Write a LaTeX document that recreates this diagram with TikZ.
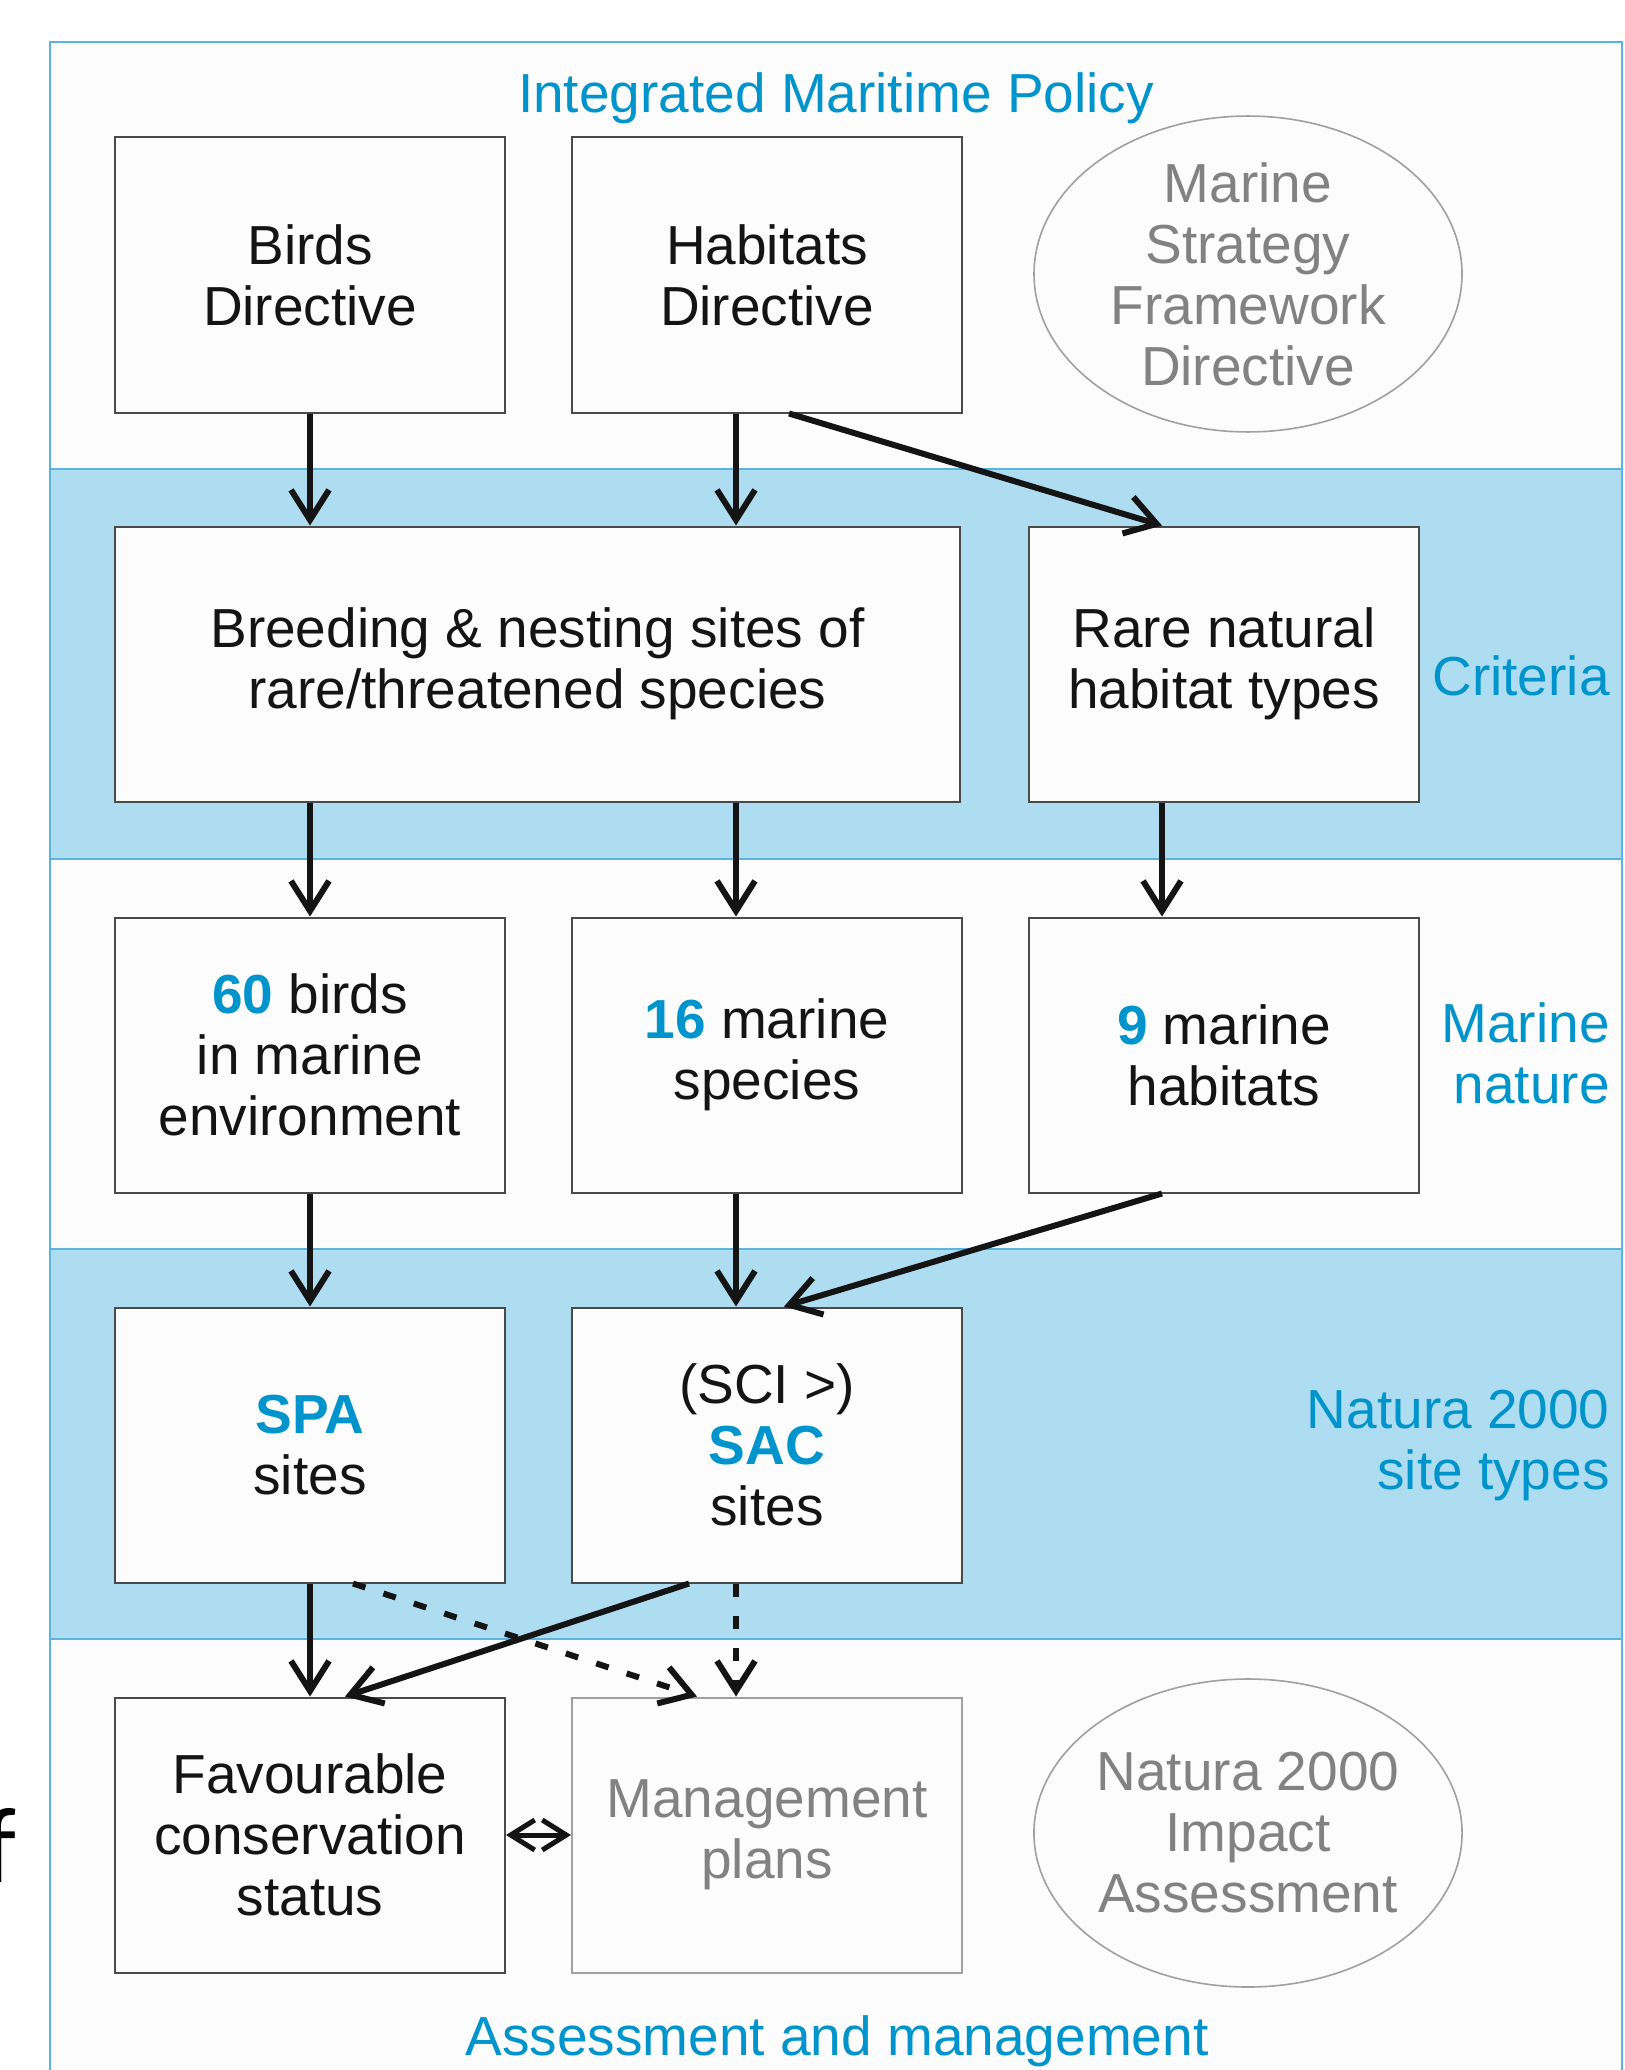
\documentclass[tikz,border=0pt]{standalone}
\usepackage{fontspec}
\setmainfont{Liberation Sans}
\newfontfamily\calfont{Carlito}
\usetikzlibrary{arrows.meta,shapes.geometric}
\definecolor{bandblue}{HTML}{AEDCF0}
\definecolor{lineblue}{HTML}{5AB4E0}
\definecolor{tblue}{HTML}{0094CC}
\definecolor{bgw}{HTML}{FCFCFC}
\definecolor{boxline}{HTML}{4A4A4A}
\definecolor{txt}{HTML}{141414}
\definecolor{gtxt}{HTML}{828282}
\definecolor{gline}{HTML}{A0A0A0}
\newcommand{\bluebold}[1]{{\bfseries\color{tblue}#1}}
\begin{document}
\begin{tikzpicture}[x=0.5pt,y=-0.5pt,
  every node/.style={font=\fontsize{27.5}{30.5}\selectfont},
  box/.style={draw=boxline, line width=1pt, fill=bgw, minimum width=195pt, minimum height=137.5pt, inner sep=0pt, align=center, text=txt},
  gbox/.style={box, draw=gline, text=gtxt},
  oval/.style={ellipse, draw=gline, line width=0.8pt, fill=bgw, minimum width=214pt, minimum height=154pt, inner sep=0pt, align=center, text=gtxt},
  lbl/.style={text=tblue, inner sep=0pt},
  arr/.style={draw=txt, line width=3pt, -{Straight Barb[length=15pt,width=19pt]}},
  darr/.style={arr, dash pattern=on 6.5pt off 9.5pt},
  barr/.style={draw=txt, line width=2.5pt, {Straight Barb[length=12pt,width=15pt]}-{Straight Barb[length=12pt,width=15pt]}},
]
\useasboundingbox (0,0) rectangle (1624,2070);
\fill[white] (0,0) rectangle (1624,2070);
\fill[bgw] (50,42) rectangle (1622,2075);
\foreach \t in {469,1249}{
  \fill[bandblue] (50,\t) rectangle (1622,\t+390);
}
\foreach \t in {469,859,1249,1639}{
  \draw[lineblue, line width=1pt] (50,\t) -- (1622,\t);
}
\draw[lineblue, line width=1pt] (50,2075) -- (50,42) -- (1622,42) -- (1622,2075);

% boxes
\node[box] (birds) at (310,275) {Birds\\Directive};
\node[box] (hab) at (767,275) {Habitats\\Directive};
\node[oval] (msfd) at (1248,274) {Marine\\Strategy\\Framework\\Directive};
\node[box, minimum width=422.5pt] (brd) at (537.5,664) {Breeding \& nesting sites of\\rare/threatened species};
\node[box] (rare) at (1224,664) {Rare natural\\habitat types};
\node[box] (b60) at (310,1055) {\bluebold{60} birds\\in marine\\environment};
\node[box] (m16) at (767,1055) {\bluebold{16} marine\\species};
\node[box] (h9) at (1224,1055) {\bluebold{9} marine\\habitats};
\node[box] (spa) at (310,1445) {\bluebold{SPA}\\sites};
\node[box] (sac) at (767,1445) {(SCI >)\\\bluebold{SAC}\\sites};
\node[box] (fav) at (310,1835) {Favourable\\conservation\\status};
\node[gbox] (mgmt) at (767,1835) {Management\\plans};
\node[oval] (n2k) at (1248,1833) {Natura 2000\\Impact\\Assessment};

% labels
\node[lbl, anchor=base] (imp) at (836,113) {Integrated Maritime Policy};
\node[lbl, anchor=base east] (crit) at (1610,695) {Criteria};
\node[lbl, anchor=east, align=right] (mnat) at (1610,1053) {Marine\\nature};
\node[lbl, anchor=east, align=right] (ntypes) at (1610,1445) {Natura 2000\\site types};
\node[lbl, anchor=base] (asm) at (837,2055) {Assessment and management};
\node[anchor=base west, inner sep=0pt, text=black, font=\calfont\fontsize{54}{60}\selectfont] (fch) at (-17,1882) {f};

% connector columns
\coordinate (xa) at (310,0);
\coordinate (xb) at (736,0);
\coordinate (xc) at (1162,0);
\coordinate (xs1) at (789,0);
\coordinate (xe1) at (784,0);
\coordinate (xs2) at (689,0);
\coordinate (xe2) at (345,0);
\coordinate (xs3) at (353,0);
\coordinate (xe3) at (697,0);

\draw[arr] (birds.south) -- (brd.north -| birds.south);
\draw[arr] (hab.south -| xb) -- (brd.north -| xb);
\draw[arr] (hab.south -| xs1) -- (rare.north -| xc);
\draw[arr] (brd.south -| xa) -- (b60.north);
\draw[arr] (brd.south -| xb) -- (m16.north -| xb);
\draw[arr] (rare.south -| xc) -- (h9.north -| xc);
\draw[arr] (b60.south) -- (spa.north);
\draw[arr] (m16.south -| xb) -- (sac.north -| xb);
\draw[arr] (h9.south -| xc) -- (sac.north -| xe1);
\draw[arr] (spa.south) -- (fav.north);
\draw[arr] (sac.south -| xs2) -- (fav.north -| xe2);
\draw[darr] (spa.south -| xs3) -- (mgmt.north -| xe3);
\draw[darr] (sac.south -| xb) -- (mgmt.north -| xb);
\draw[barr] (fav.east) -- (mgmt.west);
\end{tikzpicture}
\end{document}
